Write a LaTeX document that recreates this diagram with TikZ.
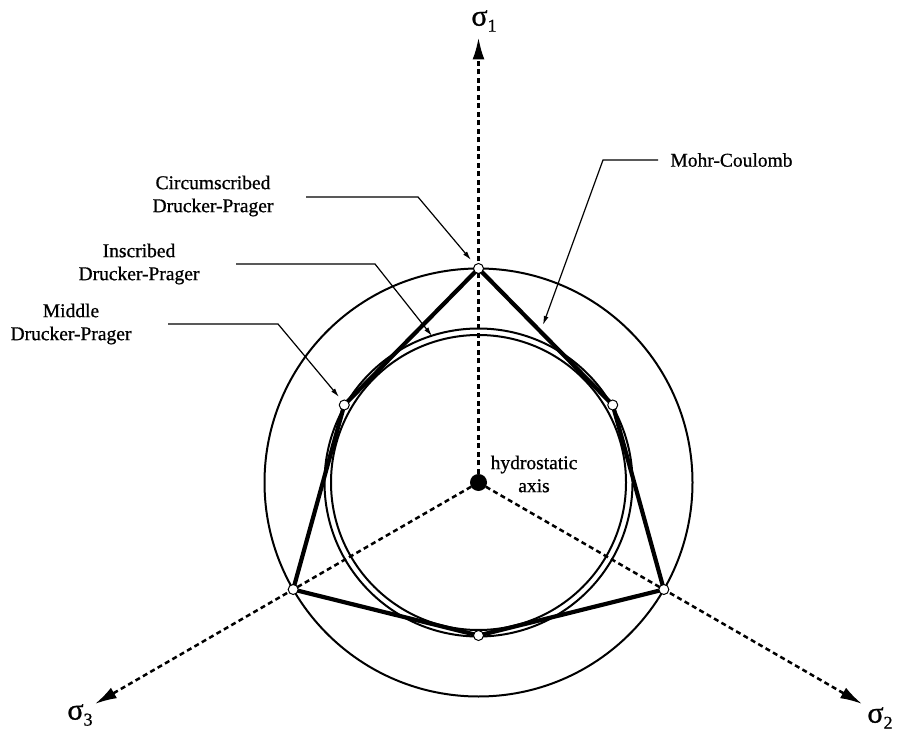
\documentclass[tikz,border=0pt]{standalone}
\usepackage{fontspec}
\setmainfont{Liberation Serif}
\newfontfamily\lblfont{Liberation Serif}[FakeBold=0.8]
\usetikzlibrary{arrows.meta,calc}
\begin{document}
\begin{tikzpicture}[x=1pt,y=1pt,
  lbl/.style={align=center,font=\lblfont\fontsize{19.5}{23}\selectfont,inner sep=0pt},
  siglbl/.style={font=\lblfont\fontsize{30}{30}\selectfont,inner sep=0pt},
  axisline/.style={line width=2.5pt,dash pattern=on 5pt off 3.5pt,-{Latex[length=22pt,width=12pt]}},
  leader/.style={line width=1.2pt,-{Latex[length=9pt,width=5pt]}},
  thincirc/.style={line width=2pt},
  mcline/.style={line width=4.2pt,line join=round},
  vtx/.style={circle,draw,fill=white,line width=1pt,minimum size=10pt,inner sep=0pt},
  hdot/.style={circle,fill=black,minimum size=17pt,inner sep=0pt}]
\useasboundingbox (0,0) rectangle (901,731);
\fill[white] (0,0) rectangle (901,731);
\coordinate (C) at (478.5,248.5);
% axes tips
\coordinate (t1) at ($(C)+(90:445)$);
\coordinate (t2) at ($(C)+(-30:443)$);
\coordinate (t3) at ($(C)+(210:443)$);
\draw[axisline] (C) -- (t1);
\draw[axisline] (C) -- (t2);
\draw[axisline] (C) -- (t3);
% axis labels
\node[siglbl] (s1) at (484,710) {σ\raisebox{-6pt}{\fontsize{18}{18}\selectfont 1}};
\node[siglbl] (s3) at (80,16) {σ\raisebox{-6pt}{\fontsize{18}{18}\selectfont 3}};
\node[siglbl] (s2) at (880,13) {σ\raisebox{-6pt}{\fontsize{18}{18}\selectfont 2}};
% circles
\draw[thincirc] (C) circle[radius=214];
\draw[thincirc] (C) circle[radius=154];
\draw[thincirc] (C) circle[radius=147.5];
% Mohr-Coulomb hexagon
\coordinate (a1) at ($(C)+(90:214)$);
\coordinate (b1) at ($(C)+(30:155)$);
\coordinate (a2) at ($(C)+(-30:214)$);
\coordinate (b2) at ($(C)+(-90:153)$);
\coordinate (a3) at ($(C)+(210:214)$);
\coordinate (b3) at ($(C)+(150:155)$);
\draw[mcline] (a1) -- (b1) -- (a2) -- (b2) -- (a3) -- (b3) -- cycle;
\foreach \p in {a1,b1,a2,b2,a3,b3} \node[vtx] (v\p) at (\p) {};
\node[hdot] (O) at (C) {};
% labels
\node[lbl] (hyd) at (534,257) {hydrostatic\\axis};
\node[lbl] (circ) at (213,535) {Circumscribed\\Drucker-Prager};
\node[lbl] (insc) at (139,467) {Inscribed\\Drucker-Prager};
\node[lbl] (mid) at (71,407) {Middle\\Drucker-Prager};
\node[lbl] (mc) at (731.5,571) {Mohr-Coulomb};
% leaders
\coordinate (c0) at (306,534); \coordinate (c1) at (418,534); \coordinate (c2) at (471,471);
\coordinate (i0) at (236,467); \coordinate (i1) at (375,467); \coordinate (i2) at (432,395);
\coordinate (m0) at (168,407); \coordinate (m1) at (278,407); \coordinate (m2) at (339,334);
\coordinate (k0) at (658,571); \coordinate (k1) at (603,571); \coordinate (k2) at (543,406);
\draw[leader] (c0) -- (c1) -- (c2);
\draw[leader] (i0) -- (i1) -- (i2);
\draw[leader] (m0) -- (m1) -- (m2);
\draw[leader] (k0) -- (k1) -- (k2);
\end{tikzpicture}
\end{document}
